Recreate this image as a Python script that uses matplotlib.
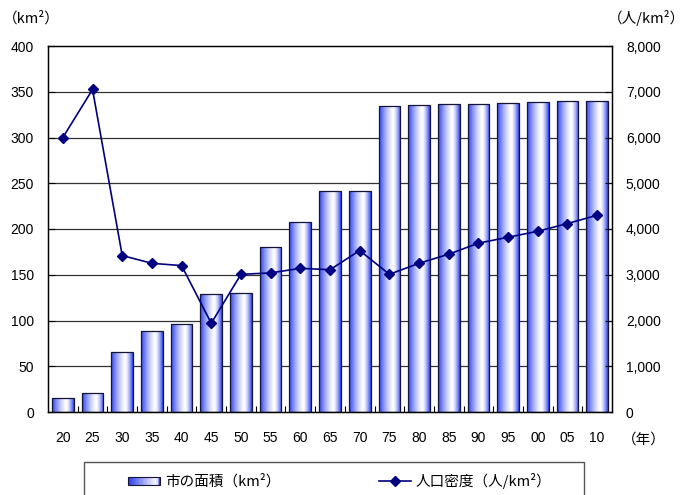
import numpy as np
import matplotlib
matplotlib.use("Agg")
import matplotlib.pyplot as plt
from matplotlib.patches import Rectangle
from matplotlib.lines import Line2D
from matplotlib.legend_handler import HandlerBase

plt.rcParams['font.family'] = ['Liberation Sans', 'Noto Sans CJK JP', 'DejaVu Sans']
CJK = ['Noto Sans CJK JP', 'DejaVu Sans']

years = ['20', '25', '30', '35', '40', '45', '50', '55', '60', '65',
         '70', '75', '80', '85', '90', '95', '00', '05', '10']
area_km2 = [15, 21, 66, 89, 96, 129, 130, 180, 208, 242,
            242, 334, 336, 337, 337, 338, 339, 340, 340]
density = [6000, 7050, 3420, 3250, 3200, 1940, 3010, 3040, 3140, 3110,
           3530, 3010, 3250, 3450, 3690, 3820, 3950, 4120, 4300]

area_label = '市の面積（km²）'
density_label = '人口密度（人/km²）'

BLUE = np.array([0.18, 0.26, 0.94])
WHITE = np.array([1.0, 1.0, 1.0])


def gradient_row(n=64, center=0.66, power=1.4):
    t = np.linspace(0, 1, n)
    d = np.where(t < center, (center - t) / center, (t - center) / (1 - center))
    w = np.clip(d, 0, 1) ** power
    return (WHITE[None, :] * (1 - w[:, None]) + BLUE[None, :] * w[:, None])


fig = plt.figure(figsize=(6.88, 4.95), dpi=100)
ax = fig.add_axes([48 / 688, 1 - 412 / 495, 564 / 688, 366 / 495])

x = np.arange(len(years))
bar_w = 0.73
bars = ax.bar(x, area_km2, width=bar_w, facecolor='none',
              edgecolor='#141438', linewidth=0.9, zorder=3)
grad = gradient_row()[None, :, :]
for b in bars:
    x0 = b.get_x()
    im = ax.imshow(grad, extent=[x0, x0 + b.get_width(), 0, b.get_height()],
                   aspect='auto', zorder=2, interpolation='bilinear')
    im.set_clip_path(b)

ax.set_xlim(-0.5, len(years) - 0.5)
ax.set_ylim(0, 400)
ax.set_yticks(np.arange(0, 401, 50))
for yv in range(50, 400, 50):
    ax.axhline(yv, color='#333333', linewidth=0.9, zorder=1)

ax.set_xticks(x)
ax.set_xticklabels(years)
ax.set_xticks(np.arange(0.5, len(years) - 1, 1), minor=True)
ax.tick_params(axis='x', which='major', length=0, pad=14, labelsize=10)
ax.tick_params(axis='x', which='minor', direction='in', length=4, width=0.8)
ax.tick_params(axis='y', direction='in', length=5, width=0.8, pad=10, labelsize=10)
for s in ax.spines.values():
    s.set_linewidth(1.0)
    s.set_color('black')

ax2 = ax.twinx()
ax2.plot(x, density, color='#000080', linewidth=1.2, marker='D',
         markersize=5, markerfacecolor='#000080', markeredgecolor='#000080', zorder=5)
ax2.set_ylim(0, 8000)
ax2.set_yticks(np.arange(0, 8001, 1000))
ax2.set_yticklabels([f'{v:,}' for v in range(0, 8001, 1000)])
ax2.tick_params(axis='y', direction='in', length=5, width=0.8, pad=10, labelsize=10)

fig.text(31 / 688, 1 - 18 / 495, '（km²）', ha='center', va='center',
         fontsize=10.5, family=CJK)
fig.text(646 / 688, 1 - 18 / 495, '（人/km²）', ha='center', va='center',
         fontsize=10.5, family=CJK)
fig.text(644 / 688, 1 - 440 / 495, '（年）', ha='center', va='center',
         fontsize=10.5, family=CJK)


class GradientHandler(HandlerBase):
    def create_artists(self, legend, orig_handle, xdescent, ydescent,
                       width, height, fontsize, trans):
        n = 24
        cols = gradient_row(n, center=0.9, power=1.0)
        artists = []
        for i in range(n):
            r = Rectangle((-xdescent + width * i / n, -ydescent + height * 0.1),
                          width / n + 0.2, height * 0.75, facecolor=cols[i],
                          edgecolor='none', transform=trans)
            artists.append(r)
        frame = Rectangle((-xdescent, -ydescent + height * 0.1), width, height * 0.75,
                          facecolor='none', edgecolor='#141438', linewidth=0.8,
                          transform=trans)
        artists.append(frame)
        return artists


bar_handle = Rectangle((0, 0), 1, 1)
line_handle = Line2D([], [], color='#000080', linewidth=1.2, marker='D',
                     markersize=5, markerfacecolor='#000080')

fig.patches.append(Rectangle((84 / 688, -0.05), 500 / 688, 0.05 + 33 / 495,
                             transform=fig.transFigure, facecolor='white',
                             edgecolor='#555555', linewidth=1.0))
fig.legend([bar_handle, line_handle], [area_label, density_label],
           handler_map={Rectangle: GradientHandler()},
           loc='center', bbox_to_anchor=(340 / 688, 1 - 481 / 495), ncol=2,
           frameon=False, prop={'family': CJK, 'size': 10.5},
           handlelength=2.2, handletextpad=0.3, columnspacing=6.8)

fig.savefig('out.png', dpi=100)
